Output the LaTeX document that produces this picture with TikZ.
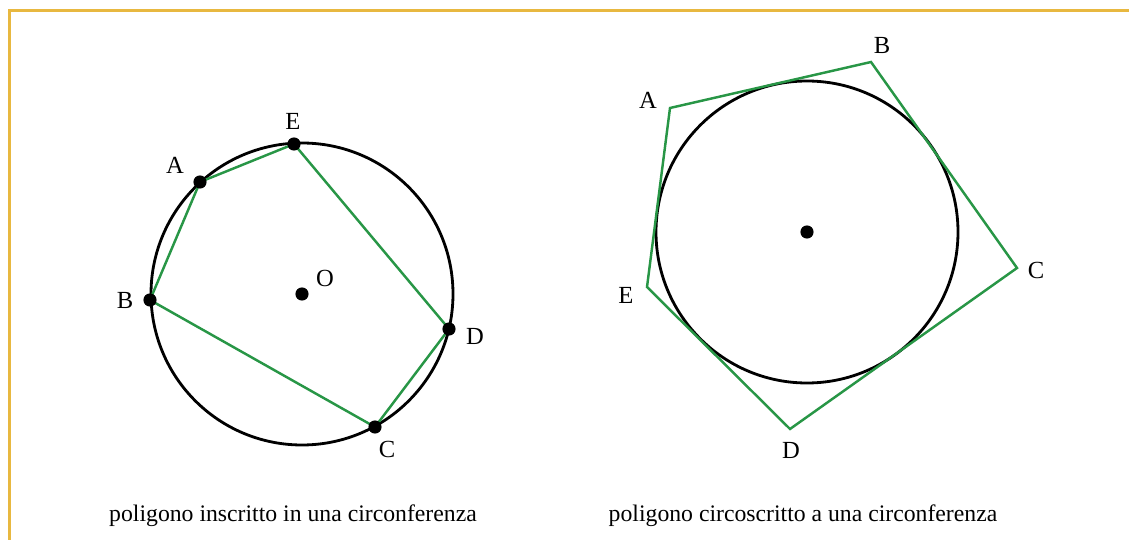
\documentclass[tikz,border=0pt]{standalone}
\usepackage{fontspec}
\setmainfont{Liberation Serif}
\usetikzlibrary{positioning}
\definecolor{frame}{RGB}{232,184,64}
\definecolor{poly}{RGB}{40,150,70}
\tikzstyle{circ}=[draw=black,line width=1.6pt]
\tikzstyle{side}=[draw=poly,line width=1.4pt,line join=miter]
\tikzstyle{pt}=[circle,fill=black,inner sep=0pt,minimum size=7.5pt]
\tikzstyle{lab}=[inner sep=0pt,font=\fontsize{14}{16}\selectfont]
\tikzstyle{caption}=[inner sep=0pt,font=\fontsize{13.5}{16}\selectfont]

\begin{document}
\begin{tikzpicture}[x=0.02cm,y=-0.02cm]
\useasboundingbox (0,0) rectangle (1129,540);
% frame
\draw[frame,line width=1.7pt] (9.5,540) -- (9.5,10.5) -- (1129,10.5);
% inscribed polygon
\coordinate (O) at (302,294);
\coordinate (E) at (294,144);
\coordinate (A) at (200,182);
\coordinate (B) at (150,300);
\coordinate (C) at (375,427);
\coordinate (D) at (449,329);
\draw[circ] (O) circle (151);
\draw[side] (A) -- (E) -- (D) -- (C) -- (B) -- cycle;
\foreach \p in {O,A,B,C,D,E} \node[pt] at (\p) {};
\node[lab] (labE) at (293,121) {E};
\node[lab] (labA) at (175,165) {A};
\node[lab] (labB) at (125,300) {B};
\node[lab] (labO) at (325,278) {O};
\node[lab] (labD) at (475,336) {D};
\node[lab] (labC) at (387,449) {C};
% circumscribed polygon
\coordinate (Q) at (807,232);
\coordinate (QA) at (670,108);
\coordinate (QB) at (871,62);
\coordinate (QC) at (1017,268);
\coordinate (QD) at (790,429);
\coordinate (QE) at (647,287);
\draw[circ] (Q) circle (151);
\draw[side] (QA) -- (QB) -- (QC) -- (QD) -- (QE) -- cycle;
\node[pt] at (Q) {};
\node[lab] (labQA) at (648,100) {A};
\node[lab] (labQB) at (882,45) {B};
\node[lab] (labQC) at (1036,270) {C};
\node[lab] (labQE) at (626,295) {E};
\node[lab] (labQD) at (791,450) {D};
% captions
\node[caption] (capL) at (293,516) {poligono inscritto in una circonferenza};
\node[caption] (capR) at (803,516) {poligono circoscritto a una circonferenza};
\end{tikzpicture}
\end{document}
